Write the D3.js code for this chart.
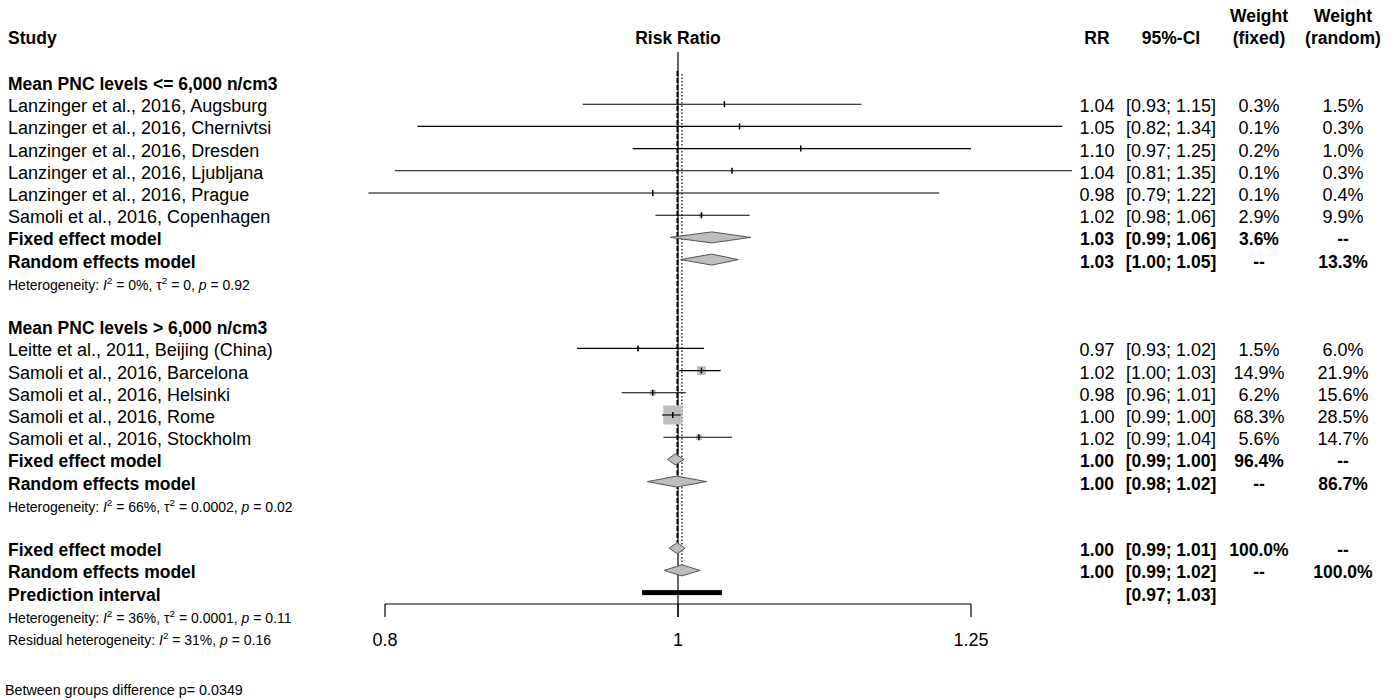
<!DOCTYPE html>
<html>
<head>
<meta charset="utf-8">
<script src="https://cdn.jsdelivr.net/npm/d3@7"></script>
<style>
  body { margin: 0; background: #fff; }
  svg { display: block; }
  text { font-family: "Liberation Sans", Arial, sans-serif; fill: #000; }
</style>
</head>
<body>
<svg id="chart" width="1394" height="700"></svg>
<script>
// ---- data ----
const groupTitles = ["Mean PNC levels <= 6,000 n/cm3", "Mean PNC levels > 6,000 n/cm3"];

const studies1 = [
  "Lanzinger et al., 2016, Augsburg",
  "Lanzinger et al., 2016, Chernivtsi",
  "Lanzinger et al., 2016, Dresden",
  "Lanzinger et al., 2016, Ljubljana",
  "Lanzinger et al., 2016, Prague",
  "Samoli et al., 2016, Copenhagen"
];
const rr1 = [1.036, 1.048, 1.098, 1.042, 0.981, 1.018];
const lower1 = [0.93, 0.82, 0.966, 0.806, 0.79, 0.983];
const upper1 = [1.15, 1.34, 1.25, 1.35, 1.22, 1.056];
const weightFixed1 = [0.3, 0.1, 0.2, 0.1, 0.1, 2.9];
const weightRandom1 = [1.5, 0.3, 1.0, 0.3, 0.4, 9.9];

const studies2 = [
  "Leitte et al., 2011, Beijing (China)",
  "Samoli et al., 2016, Barcelona",
  "Samoli et al., 2016, Helsinki",
  "Samoli et al., 2016, Rome",
  "Samoli et al., 2016, Stockholm"
];
const rr2 = [0.970, 1.018, 0.981, 0.996, 1.016];
const lower2 = [0.926, 1.001, 0.958, 0.988, 0.989];
const upper2 = [1.02, 1.033, 1.006, 1.002, 1.042];
const weightFixed2 = [1.5, 14.9, 6.2, 68.3, 5.6];
const weightRandom2 = [6.0, 21.9, 15.6, 28.5, 14.7];

// pooled estimates: [estimate, lower, upper]
const fixed1 = [1.026, 0.994, 1.057];
const random1 = [1.026, 1.002, 1.047];
const fixed2 = [0.998, 0.992, 1.0046];
const random2 = [0.999, 0.977, 1.022];
const fixedAll = [0.9995, 0.9932, 1.0053];
const randomAll = [1.003, 0.9894, 1.0169];
const prediction = [0.973, 1.034];

// pooled weights: [fixed, random]
const pooledWeights1 = [3.6, 13.3];
const pooledWeights2 = [96.4, 86.7];
const pooledWeightsAll = [100.0, 100.0];

// heterogeneity statistics: [I2, tau2, p]
const hetero1 = ["0%", "0", "0.92"];
const hetero2 = ["66%", "0.0002", "0.02"];
const heteroAll = ["36%", "0.0001", "0.11"];
const residualHetero = ["31%", "0.16"];
const betweenGroupsP = "0.0349";

const axisTicks = [0.8, 1, 1.25];
const axisTickLabels = ["0.8", "1", "1.25"];

// ---- layout ----
const svg = d3.select("#chart");
const x = d3.scaleLog().domain([0.8, 1.25]).range([385, 971]);
const row = d3.scaleLinear().domain([0, 1]).range([82, 104.2]);
const side = d3.scaleSqrt().domain([0, 68.3]).range([0, 19]);

const FS = 18;         // regular text
const FS_BOLD = 17.5;  // bold text
const FS_SMALL = 14;   // heterogeneity lines
const BASE = 8;        // baseline offset below row centre
const colRR = 1097, colCI = 1171, colWF = 1259, colWR = 1343;

const fmt2 = v => v.toFixed(2);
const fmtW = v => v.toFixed(1) + "%";
const ci = (lo, hi) => "[" + fmt2(lo) + "; " + fmt2(hi) + "]";

function label(xp, yp, str, opts = {}) {
  return svg.append("text")
    .attr("x", xp).attr("y", yp)
    .attr("font-size", opts.size || (opts.bold ? FS_BOLD : FS))
    .attr("font-weight", opts.bold ? "bold" : "normal")
    .attr("text-anchor", opts.anchor || "start")
    .text(str);
}

// ---- column headers ----
label(8, 44, "Study", { bold: true });
label(x(1), 44, "Risk Ratio", { bold: true, anchor: "middle" });
label(colRR, 44, "RR", { bold: true, anchor: "middle" });
label(colCI, 44, "95%-CI", { bold: true, anchor: "middle" });
label(colWF, 22, "Weight", { bold: true, anchor: "middle" });
label(colWF, 44, "(fixed)", { bold: true, anchor: "middle" });
label(colWR, 22, "Weight", { bold: true, anchor: "middle" });
label(colWR, 44, "(random)", { bold: true, anchor: "middle" });

// ---- reference lines ----
const gLines = svg.append("g");
gLines.append("line")
  .attr("x1", x(1)).attr("x2", x(1))
  .attr("y1", 52).attr("y2", 617)
  .attr("stroke", "#000").attr("stroke-width", 1.2);
gLines.append("line")
  .attr("x1", x(fixedAll[0])).attr("x2", x(fixedAll[0]))
  .attr("y1", 71).attr("y2", row(21) - 5.5)
  .attr("stroke", "#000").attr("stroke-width", 1.8)
  .attr("stroke-dasharray", "5,2");
gLines.append("line")
  .attr("x1", x(randomAll[0])).attr("x2", x(randomAll[0]))
  .attr("y1", 74).attr("y2", row(22) - 5.5)
  .attr("stroke", "#000").attr("stroke-width", 1.2)
  .attr("stroke-dasharray", "1.5,2");

// ---- axis ----
const axisY = 604;
const gAxis = svg.append("g");
gAxis.append("line")
  .attr("x1", x(0.8)).attr("x2", x(1.25))
  .attr("y1", axisY).attr("y2", axisY)
  .attr("stroke", "#000").attr("stroke-width", 1.2);
axisTicks.forEach((t, i) => {
  gAxis.append("line")
    .attr("x1", x(t)).attr("x2", x(t))
    .attr("y1", axisY).attr("y2", axisY + 13)
    .attr("stroke", "#000").attr("stroke-width", 1.2);
  label(x(t), 646, axisTickLabels[i], { anchor: "middle", size: 18 });
});

// ---- marks ----
const gMarks = svg.append("g");

function studyRow(k, name, est, lo, hi, wf, wr) {
  const yc = row(k);
  const s = side(wf);
  gMarks.append("rect")
    .attr("x", x(est) - s / 2).attr("y", yc - s / 2)
    .attr("width", s).attr("height", s)
    .attr("fill", "#bebebe");
  gMarks.append("line")
    .attr("x1", x(lo)).attr("x2", x(hi))
    .attr("y1", yc).attr("y2", yc)
    .attr("stroke", "#000").attr("stroke-width", 1.1);
  gMarks.append("line")
    .attr("x1", x(est)).attr("x2", x(est))
    .attr("y1", yc - 3).attr("y2", yc + 3)
    .attr("stroke", "#000").attr("stroke-width", 1.5);
  label(8, yc + BASE, name);
  label(colRR, yc + BASE, fmt2(est), { anchor: "middle" });
  label(colCI, yc + BASE, ci(lo, hi), { anchor: "middle" });
  label(colWF, yc + BASE, fmtW(wf), { anchor: "middle" });
  label(colWR, yc + BASE, fmtW(wr), { anchor: "middle" });
}

function diamondRow(k, name, vals, wf, wr) {
  const yc = row(k), h = 5.5;
  const [est, lo, hi] = vals;
  gMarks.append("path")
    .attr("d", d3.line()([[x(lo), yc], [x(est), yc - h], [x(hi), yc], [x(est), yc + h]]) + "Z")
    .attr("fill", "#bebebe").attr("stroke", "#555").attr("stroke-width", 1);
  label(8, yc + BASE, name, { bold: true });
  label(colRR, yc + BASE, fmt2(est), { anchor: "middle", bold: true });
  label(colCI, yc + BASE, ci(lo, hi), { anchor: "middle", bold: true });
  label(colWF, yc + BASE, wf == null ? "--" : fmtW(wf), { anchor: "middle", bold: true });
  label(colWR, yc + BASE, wr == null ? "--" : fmtW(wr), { anchor: "middle", bold: true });
}

function heteroRow(k, stats, residual) {
  const t = svg.append("text")
    .attr("x", 8).attr("y", row(k) + BASE)
    .attr("font-size", FS_SMALL);
  t.append("tspan").text(residual ? "Residual heterogeneity: " : "Heterogeneity: ");
  t.append("tspan").attr("font-style", "italic").text("I");
  t.append("tspan").attr("font-size", FS_SMALL * 0.7).attr("dy", -6).text("2");
  t.append("tspan").attr("dy", 6).text(" = " + stats[0] + ", ");
  if (!residual) {
    t.append("tspan").text("\u03c4");
    t.append("tspan").attr("font-size", FS_SMALL * 0.7).attr("dy", -6).text("2");
    t.append("tspan").attr("dy", 6).text(" = " + stats[1] + ", ");
  }
  t.append("tspan").attr("font-style", "italic").text("p");
  t.append("tspan").text("  = " + stats[stats.length - 1]);
}

// group 1
label(8, row(0) + BASE, groupTitles[0], { bold: true });
studies1.forEach((s, i) => studyRow(1 + i, s, rr1[i], lower1[i], upper1[i], weightFixed1[i], weightRandom1[i]));
diamondRow(7, "Fixed effect model", fixed1, pooledWeights1[0], null);
diamondRow(8, "Random effects model", random1, null, pooledWeights1[1]);
heteroRow(9, hetero1, false);

// group 2
label(8, row(11) + BASE, groupTitles[1], { bold: true });
studies2.forEach((s, i) => studyRow(12 + i, s, rr2[i], lower2[i], upper2[i], weightFixed2[i], weightRandom2[i]));
diamondRow(17, "Fixed effect model", fixed2, pooledWeights2[0], null);
diamondRow(18, "Random effects model", random2, null, pooledWeights2[1]);
heteroRow(19, hetero2, false);

// overall
diamondRow(21, "Fixed effect model", fixedAll, pooledWeightsAll[0], null);
diamondRow(22, "Random effects model", randomAll, null, pooledWeightsAll[1]);

// prediction interval
const yPred = row(23);
gMarks.append("rect")
  .attr("x", x(prediction[0])).attr("y", yPred - 2.5)
  .attr("width", x(prediction[1]) - x(prediction[0])).attr("height", 5)
  .attr("fill", "#000");
label(8, yPred + BASE, "Prediction interval", { bold: true });
label(colCI, yPred + BASE, ci(prediction[0], prediction[1]), { anchor: "middle", bold: true });

heteroRow(24, heteroAll, false);
heteroRow(25, residualHetero, true);

label(5, 695, "Between groups difference p= " + betweenGroupsP, { size: 14.3 });
</script>
</body>
</html>
